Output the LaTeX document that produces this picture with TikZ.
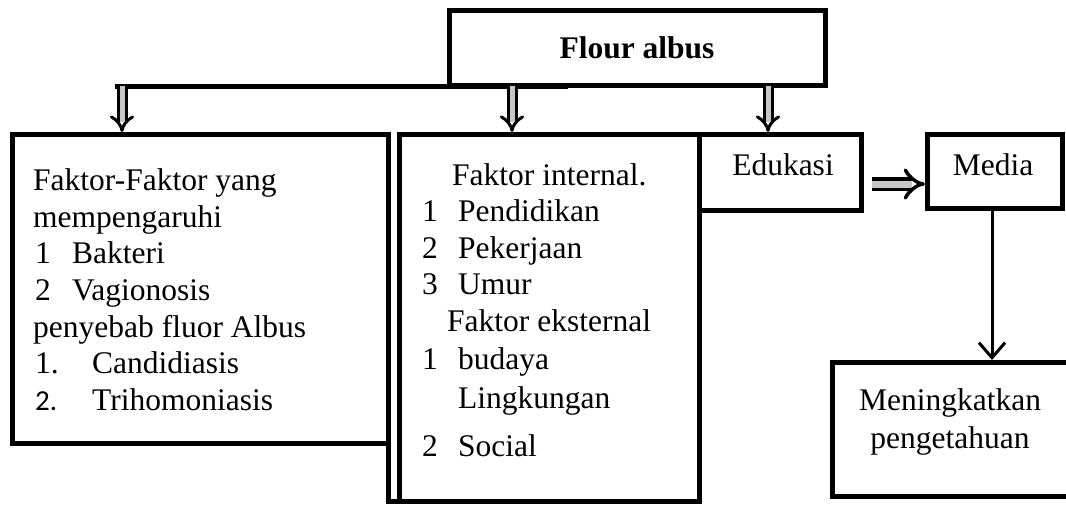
\documentclass[tikz,border=0pt]{standalone}
\usepackage{fontspec}
\setmainfont{Liberation Serif}
\newfontfamily\calib{Carlito}
\usetikzlibrary{arrows.meta}
\begin{document}
\begin{tikzpicture}[x=1pt,y=-1pt,
  box/.style={draw, line width=5pt, inner sep=0pt},
  boxline/.style={line width=5pt},
  txt/.style={font=\fontsize{31.5}{36}\selectfont, inner sep=0pt, anchor=base west},
  ctxt/.style={font=\fontsize{31.5}{36}\selectfont, inner sep=0pt, anchor=base},
  darrow/.style={line width=3pt, double distance=5pt, double=gray!45, -{Implies}},
  harrow/.style={line width=3.5pt, double distance=7pt, double=gray!45, -{Implies}},
  sarrow/.style={line width=3pt, -{Straight Barb[length=15pt,width=26pt]}}]
\useasboundingbox (0,0) rectangle (1066,504);

% boxes
\node[box, minimum width=376pt, minimum height=74.5pt] (top) at (637,47.75) {};
\node[box, minimum width=376pt, minimum height=309pt] (left) at (200,289) {};
\node[box, minimum width=300pt, minimum height=367pt] (mid) at (549,318) {};
\node[box, minimum width=162pt, minimum height=75.5pt] (edu) at (780,172.25) {};
\node[box, minimum width=135pt, minimum height=74pt] (media) at (995,171.5) {};
\node[box, minimum width=236pt, minimum height=134pt] (men) at (950,429.5) {};

% extension of left box edge down to the bottom
\coordinate (x1) at (388,441);
\coordinate (x2) at (388,501.5);
\coordinate (x3) at (401,501.5);
\draw[boxline] (x1) -- (x2) -- (x3);

% bar under the top box
\coordinate (barL) at (115,86);
\coordinate (barR) at (568,86);
\draw[boxline] (barL) -- (barR);

% down arrows
\coordinate (a1) at (122,86);
\coordinate (a2) at (512,86);
\coordinate (a3) at (768,86);
\draw[darrow] (a1) -- (a1 |- left.north);
\draw[darrow] (a2) -- (a2 |- mid.north);
\draw[darrow] (a3) -- (a3 |- edu.north);

% Edukasi -> Media
\coordinate (e1) at (872,184);
\draw[harrow] (e1) -- (e1 -| media.west);

% Media -> Meningkatkan
\draw[sarrow] ([xshift=-3pt]media.south) -- ([xshift=-3pt]media.south |- men.north);

% texts
\node[ctxt] (ttop) at (637,58) {\bfseries Flour albus};

\node[txt] (l1) at (33,190) {Faktor-Faktor yang};
\node[txt] (l2) at (33,227) {mempengaruhi};
\node[txt] (l3n) at (35,263) {1};
\node[txt] (l3) at (72,263) {Bakteri};
\node[txt] (l4n) at (35,300) {2};
\node[txt] (l4) at (72,300) {Vagionosis};
\node[txt] (l5) at (33,337) {penyebab fluor Albus};
\node[txt] (l6n) at (35,373) {1.};
\node[txt] (l6) at (92,373) {Candidiasis};
\node[txt] (l7n) at (35,410) {\calib\fontsize{29}{36}\selectfont 2.};
\node[txt] (l7) at (92,410) {Trihomoniasis};

\node[txt] (m1) at (452,185) {Faktor internal.};
\node[txt] (m2n) at (422,221) {1};
\node[txt] (m2) at (458,221) {Pendidikan};
\node[txt] (m3n) at (422,258) {2};
\node[txt] (m3) at (458,258) {Pekerjaan};
\node[txt] (m4n) at (422,294) {3};
\node[txt] (m4) at (458,294) {Umur};
\node[txt] (m5) at (447,331) {Faktor eksternal};
\node[txt] (m6n) at (422,369) {1};
\node[txt] (m6) at (458,369) {budaya};
\node[txt] (m7) at (458,408) {Lingkungan};
\node[txt] (m8n) at (422,456) {2};
\node[txt] (m8) at (458,456) {Social};

\node[ctxt] (tedu) at (783,175) {Edukasi};
\node[ctxt] (tmedia) at (993,175) {Media};
\node[ctxt] (tmen1) at (950,410) {Meningkatkan};
\node[ctxt] (tmen2) at (950,448) {pengetahuan};
\end{tikzpicture}
\end{document}
